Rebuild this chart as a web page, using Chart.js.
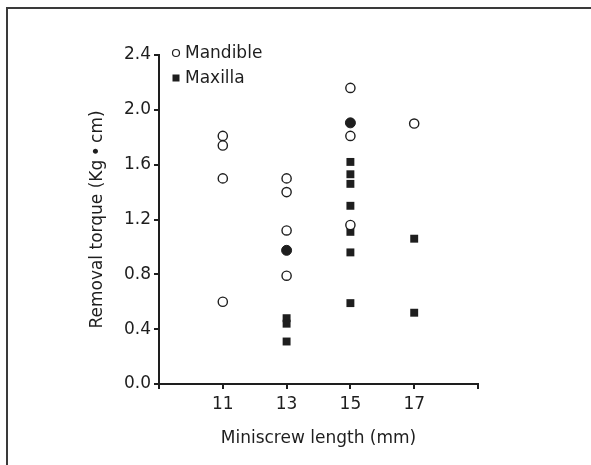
<!DOCTYPE html>
<html>
<head>
<meta charset="utf-8">
<script src="https://cdn.jsdelivr.net/npm/chart.js@4/dist/chart.umd.min.js"></script>
<style>
  body { margin: 0; background: #fff; }
  #wrap { position: relative; width: 591px; height: 465px; overflow: hidden; }
  #frame { position: absolute; left: 6px; top: 7px; width: 700px; height: 600px;
           border-top: 2px solid #3a3a3a; border-left: 2px solid #3a3a3a; }
  canvas { position: absolute; left: 0; top: 0; }
</style>
</head>
<body>
<div id="wrap">
  <div id="frame"></div>
  <canvas id="torqueChart" width="591" height="465"></canvas>
</div>
<script>
// values
const mandibleLength = [11, 11, 11, 11, 13, 13, 13, 13, 15, 15, 15, 17];
const mandibleTorque = [1.81, 1.74, 1.50, 0.60, 1.50, 1.40, 1.12, 0.79, 2.16, 1.81, 1.16, 1.90];

const maxillaLength = [13, 13, 13, 15, 15, 15, 15, 15, 15, 15, 17, 17];
const maxillaTorque = [0.48, 0.44, 0.31, 1.62, 1.53, 1.46, 1.30, 1.11, 0.96, 0.59, 1.06, 0.52];

// points where a circle and a square sit on top of each other (drawn filled)
const bothLength = [13, 15];
const bothTorque = [0.975, 1.905];

const xTicks = [11, 13, 15, 17];
const yTicks = [0.0, 0.4, 0.8, 1.2, 1.6, 2.0, 2.4];

const ink = '#1e1e1e';
const font = '"DejaVu Sans", sans-serif';

function toPoints(xs, ys) {
    return xs.map((x, i) => ({ x: x, y: ys[i] }));
}

// small legend in the upper left corner of the plot
const cornerLegend = {
    id: 'cornerLegend',
    afterDraw(chart) {
        const ctx = chart.ctx;
        const x0 = chart.chartArea.left + 17;
        let y = chart.chartArea.top - 2;
        ctx.save();
        ctx.font = '17px ' + font;
        ctx.textBaseline = 'middle';
        ctx.fillStyle = ink;
        ctx.strokeStyle = ink;
        chart.data.datasets.forEach(ds => {
            if (!ds.inLegend) return;
            if (ds.pointStyle === 'circle') {
                ctx.beginPath();
                ctx.lineWidth = 1.2;
                ctx.arc(x0, y, 3.5, 0, Math.PI * 2);
                ctx.stroke();
            } else {
                ctx.fillRect(x0 - 3.5, y - 3.5, 7, 7);
            }
            ctx.fillText(ds.label, x0 + 9, y + 1);
            y += 25;
        });
        ctx.restore();
    }
};

new Chart(document.getElementById('torqueChart'), {
    type: 'scatter',
    data: {
        datasets: [
            {
                label: 'Mandible',
                inLegend: true,
                data: toPoints(mandibleLength, mandibleTorque),
                pointStyle: 'circle',
                pointRadius: 4.6,
                borderWidth: 1.4,
                borderColor: ink,
                backgroundColor: '#fff'
            },
            {
                label: 'Maxilla',
                inLegend: true,
                data: toPoints(maxillaLength, maxillaTorque),
                pointStyle: 'rect',
                pointRadius: 5.6,
                borderWidth: 0,
                borderColor: ink,
                backgroundColor: ink
            },
            {
                label: 'Both',
                inLegend: false,
                data: toPoints(bothLength, bothTorque),
                pointStyle: 'circle',
                pointRadius: 5,
                borderWidth: 1,
                borderColor: ink,
                backgroundColor: ink
            }
        ]
    },
    options: {
        responsive: false,
        animation: false,
        layout: { padding: { left: 80, top: 55, right: 113, bottom: 0 } },
        plugins: {
            legend: { display: false },
            tooltip: { enabled: false }
        },
        scales: {
            x: {
                type: 'linear',
                min: 9,
                max: 19,
                afterFit: scale => { scale.height = 81; },
                afterBuildTicks: scale => {
                    scale.ticks = [9].concat(xTicks, [19]).map(v => ({ value: v }));
                },
                ticks: {
                    color: ink,
                    font: { family: font, size: 17 },
                    padding: 5,
                    callback: v => xTicks.includes(v) ? String(v) : ''
                },
                grid: { drawOnChartArea: false, drawTicks: true, tickLength: 5, color: ink, lineWidth: 2 },
                border: { display: true, color: ink, width: 2 },
                title: {
                    display: true,
                    text: 'Miniscrew length (mm)',
                    color: ink,
                    font: { family: font, size: 17 },
                    padding: { top: 0, bottom: 16 }
                }
            },
            y: {
                min: 0,
                max: 2.4,
                afterFit: scale => { scale.width = 79; },
                afterBuildTicks: scale => {
                    scale.ticks = yTicks.map(v => ({ value: v }));
                },
                ticks: {
                    color: ink,
                    font: { family: font, size: 17 },
                    padding: 3,
                    callback: v => Number(v).toFixed(1)
                },
                grid: { drawOnChartArea: false, drawTicks: true, tickLength: 5, color: ink, lineWidth: 2 },
                border: { display: true, color: ink, width: 2 },
                title: {
                    display: true,
                    text: 'Removal torque (Kg\u2009\u2022\u2009cm)',
                    color: ink,
                    font: { family: font, size: 17 },
                    padding: { top: 7, bottom: 0 }
                }
            }
        }
    },
    plugins: [cornerLegend]
});
</script>
</body>
</html>
